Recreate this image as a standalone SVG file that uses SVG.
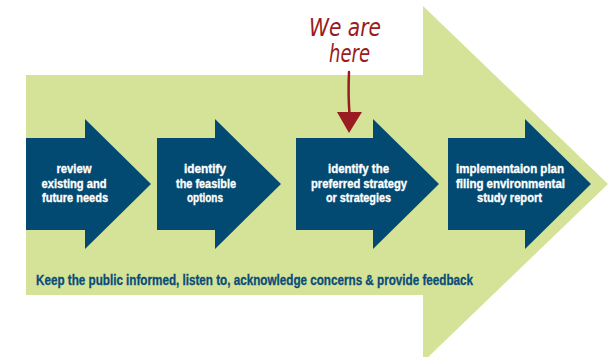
<svg xmlns="http://www.w3.org/2000/svg" width="610" height="357" viewBox="0 0 610 357">
  <style>
    .step { fill: #034a73; }
    .lbl { font-family: "Liberation Sans Narrow", "Liberation Sans", Arial, sans-serif; font-weight: bold; font-size: 13px; fill: #ffffff; stroke: #ffffff; stroke-width: 0.35; text-anchor: middle; }
    .note { font-family: "Liberation Sans Narrow", "Liberation Sans", Arial, sans-serif; font-weight: bold; font-size: 14px; fill: #0a4c7a; stroke: #0a4c7a; stroke-width: 0.3; }
    .hand { font-family: "DejaVu Sans", sans-serif; font-style: italic; font-weight: 200; font-size: 24px; fill: #9a1b21; }
  </style>
  <rect width="610" height="357" fill="#ffffff"/>
  <g id="big-arrow">
    <polygon points="26,75 423,75 423,6 608,184 423,362 423,295 26,295" fill="#d4e397"/>
    <text class="note" x="36" y="285" textLength="437" lengthAdjust="spacingAndGlyphs">Keep the public informed, listen to, acknowledge concerns &amp; provide feedback</text>
  </g>
  <g id="step1">
    <polygon class="step" points="26,138 85,138 85,119 151,184 85,249 85,230 26,230"/>
    <text class="lbl" x="74" y="173" textLength="35" lengthAdjust="spacingAndGlyphs">review</text>
    <text class="lbl" x="74" y="188" textLength="65" lengthAdjust="spacingAndGlyphs">existing and</text>
    <text class="lbl" x="75" y="202" textLength="66" lengthAdjust="spacingAndGlyphs">future needs</text>
  </g>
  <g id="step2">
    <polygon class="step" points="157,138 215,138 215,119 281,184 215,249 215,230 157,230"/>
    <text class="lbl" x="205" y="173" textLength="42" lengthAdjust="spacingAndGlyphs">identify</text>
    <text class="lbl" x="206" y="188" textLength="60" lengthAdjust="spacingAndGlyphs">the feasible</text>
    <text class="lbl" x="205" y="202" textLength="36" lengthAdjust="spacingAndGlyphs">options</text>
  </g>
  <g id="step3">
    <polygon class="step" points="296,138 373,138 373,119 439,184 373,249 373,230 296,230"/>
    <text class="lbl" x="358.5" y="173" textLength="61" lengthAdjust="spacingAndGlyphs">identify the</text>
    <text class="lbl" x="359" y="188" textLength="96" lengthAdjust="spacingAndGlyphs">preferred strategy</text>
    <text class="lbl" x="358.5" y="202" textLength="65" lengthAdjust="spacingAndGlyphs">or strategies</text>
  </g>
  <g id="step4">
    <polygon class="step" points="448,138 525,138 525,119 591,184 525,249 525,230 448,230"/>
    <text class="lbl" x="510" y="173" textLength="108" lengthAdjust="spacingAndGlyphs">implementaion plan</text>
    <text class="lbl" x="510.5" y="188" textLength="109" lengthAdjust="spacingAndGlyphs">filing environmental</text>
    <text class="lbl" x="509.5" y="202" textLength="65" lengthAdjust="spacingAndGlyphs">study report</text>
  </g>
  <g id="we-are-here">
    <text class="hand" x="309" y="36" textLength="72" lengthAdjust="spacingAndGlyphs">We are</text>
    <text class="hand" x="329" y="62" textLength="41" lengthAdjust="spacingAndGlyphs">here</text>
  </g>
  <g id="connectors">
    <path d="M349,72 Q348,95 349.5,114" fill="none" stroke="#9a1b21" stroke-width="2.5" stroke-linecap="round"/>
    <polygon points="337,112 362,112 349,133" fill="#9a1b21"/>
  </g>
</svg>
